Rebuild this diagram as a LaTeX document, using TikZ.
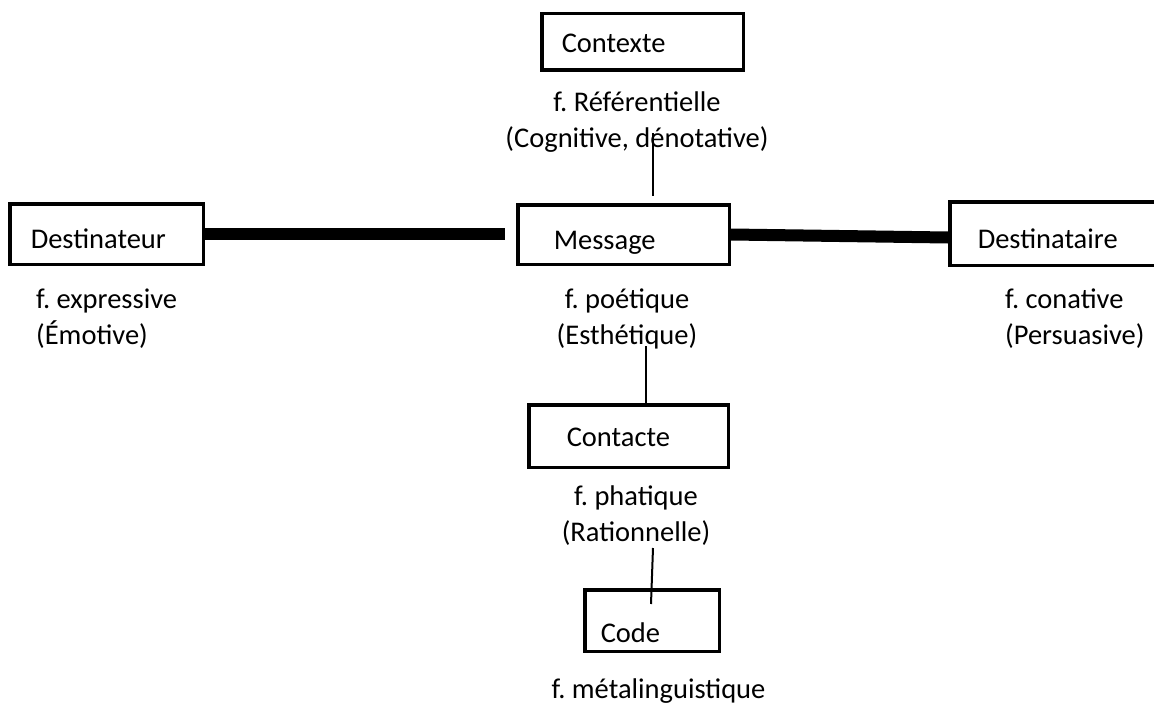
\documentclass[tikz,border=0pt]{standalone}
\usepackage{fontspec}
\setmainfont{Carlito}
\frenchspacing
\begin{document}
\begin{tikzpicture}[x=1pt,y=-1pt,
    font=\fontsize{28.5pt}{36pt}\selectfont,
    boite/.style n args={4}{draw, line width=3.5pt, align=left, inner ysep=0pt, text depth=0pt,
      text width=#1, inner xsep=#2, minimum height=#3, text height=#4},
    fonction/.style={align=center, inner sep=0pt},
    fin/.style={line width=1.2pt},
    epais/.style={line width=12pt}]
  \useasboundingbox (0,0) rectangle (1154,709);

  % les boites
  \node[boite={161.5pt}{20pt}{56.5pt}{21pt}] (contexte) at (642.5,42) {Contexte};
  \node[boite={139.5pt}{36pt}{59.5pt}{29pt}] (message) at (623.5,234.5) {Message};
  \node[boite={151.5pt}{21pt}{60.5pt}{28pt}] (destinateur) at (106.5,234) {Destinateur};
  \node[boite={152.5pt}{28pt}{63.5pt}{29pt}] (destinataire) at (1054,233.5) {Destinataire};
  \node[boite={123.5pt}{38pt}{62.5pt}{20pt}] (contacte) at (628.5,436) {Contacte};
  \node[boite={102.5pt}{16pt}{61.5pt}{43pt}] (code) at (652,620.5) {Code};

  % les fonctions
  \node[fonction] (referentielle) at (637,122) {f. Référentielle\\(Cognitive, dénotative)};
  \node[fonction, align=left, anchor=west] (expressive) at (36,319) {f. expressive\\(Émotive)};
  \node[fonction] (poetique) at (627,319) {f. poétique\\(Esthétique)};
  \node[fonction, align=left, anchor=west] (conative) at (1005,319) {f. conative\\(Persuasive)};
  \node[fonction] (phatique) at (636,516) {f. phatique\\(Rationnelle)};
  \node[fonction, anchor=base] (metalinguistique) at (658.5,698) {f. métalinguistique};

  % les liens
  \coordinate (r1) at (653,133);
  \draw[fin, shorten >=7pt] (r1) -- (r1 |- message.north);
  \coordinate (p1) at (646,346);
  \draw[fin] (p1) -- (p1 |- contacte.north);
  \coordinate (c1) at (653,548);
  \coordinate (c2) at (651,604);
  \draw[line width=2pt] (c1) -- (c2);

  \coordinate (g1) at (505,233);
  \draw[epais] (destinateur.east) -- (destinateur.east -| g1);
  \draw[epais] (message.east) -- ([yshift=-4pt]destinataire.west);
\end{tikzpicture}
\end{document}
